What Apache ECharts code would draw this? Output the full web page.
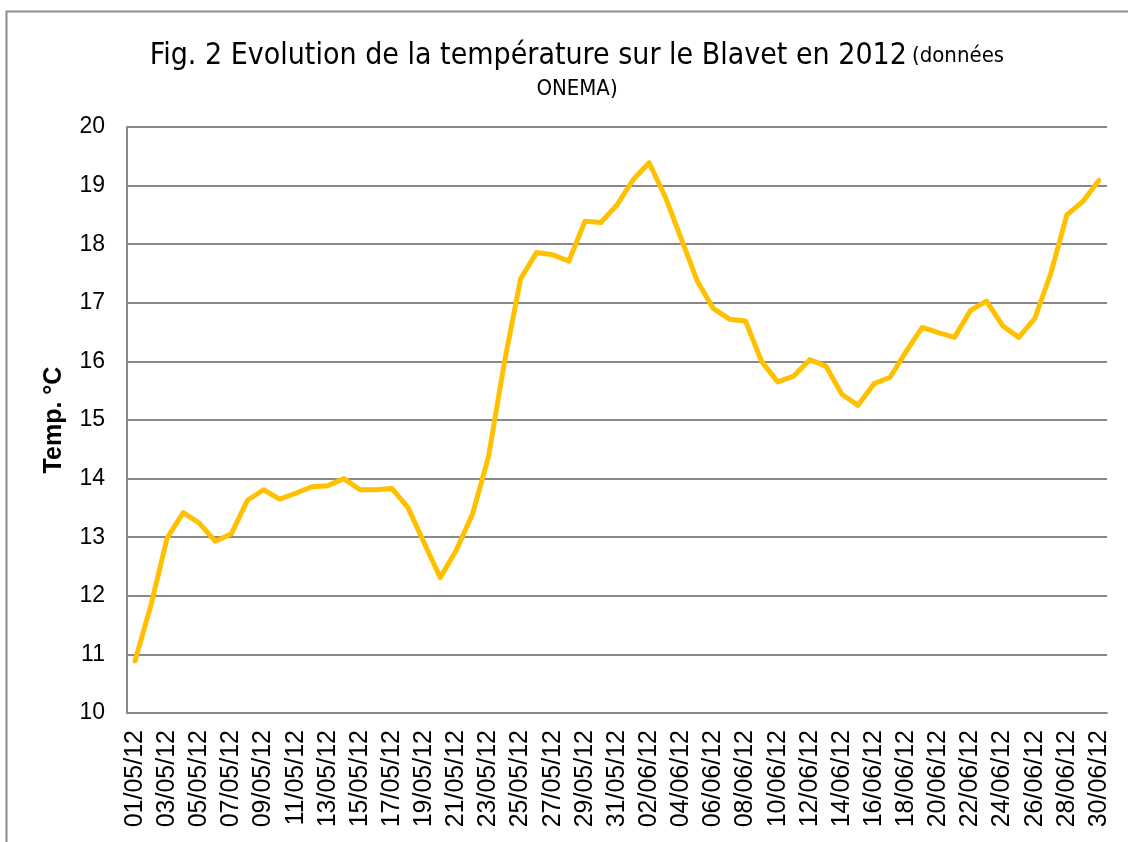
<!DOCTYPE html>
<html>
<head>
<meta charset="utf-8">
<script src="https://cdn.jsdelivr.net/npm/echarts@6/dist/echarts.min.js"></script>
<style>
    html, body { margin: 0; padding: 0; background: #fff; }
    #chart { width: 1128px; height: 842px; }
</style>
</head>
<body>
<div id="chart"></div>
<script>
{
    /*données - dates du 01/05/12 au 30/06/12*/
    const dates = [
        '01/05/12','02/05/12','03/05/12','04/05/12','05/05/12','06/05/12','07/05/12','08/05/12','09/05/12','10/05/12',
        '11/05/12','12/05/12','13/05/12','14/05/12','15/05/12','16/05/12','17/05/12','18/05/12','19/05/12','20/05/12',
        '21/05/12','22/05/12','23/05/12','24/05/12','25/05/12','26/05/12','27/05/12','28/05/12','29/05/12','30/05/12',
        '31/05/12','01/06/12','02/06/12','03/06/12','04/06/12','05/06/12','06/06/12','07/06/12','08/06/12','09/06/12',
        '10/06/12','11/06/12','12/06/12','13/06/12','14/06/12','15/06/12','16/06/12','17/06/12','18/06/12','19/06/12',
        '20/06/12','21/06/12','22/06/12','23/06/12','24/06/12','25/06/12','26/06/12','27/06/12','28/06/12','29/06/12',
        '30/06/12'
    ];

    /*température (°C)*/
    const temperatures = [
        10.89, 11.85, 12.99, 13.42, 13.24, 12.93, 13.06, 13.63, 13.81, 13.65,
        13.75, 13.86, 13.88, 14.00, 13.81, 13.81, 13.83, 13.50, 12.90, 12.31,
        12.78, 13.39, 14.37, 16.00, 17.41, 17.86, 17.82, 17.71, 18.39, 18.37,
        18.67, 19.10, 19.39, 18.81, 18.09, 17.37, 16.90, 16.72, 16.69, 16.00,
        15.65, 15.75, 16.03, 15.92, 15.44, 15.25, 15.62, 15.73, 16.17, 16.58,
        16.49, 16.41, 16.87, 17.03, 16.61, 16.41, 16.73, 17.50, 18.50, 18.73,
        19.09
    ];

    /*axe des ordonnées*/
    const yMin = 10;
    const yMax = 20;
    const yStep = 1;

    const titleFont = '"Liberation Sans Narrow", "DejaVu Sans Condensed", "Roboto Condensed", sans-serif';

    const chart = echarts.init(document.getElementById('chart'));

    const option = {
        backgroundColor: '#fff',
        animation: false,
        title: {
            text: '{a|Fig. 2 Evolution de la température sur le Blavet en 2012} {b|(données}\n{b|ONEMA)}',
            left: 572,
            top: 35,
            textAlign: 'center',
            textStyle: {
                fontWeight: 'normal',
                rich: {
                    a: {fontFamily: titleFont, fontWeight: 'normal', fontSize: 30, color: '#000', lineHeight: 33},
                    b: {fontFamily: titleFont, fontWeight: 'normal', fontSize: 22, color: '#000', lineHeight: 33}
                }
            }
        },
        graphic: [
            {
                type: 'rect',
                shape: {x: 6.5, y: 11.5, width: 1200, height: 900},
                style: {fill: 'none', stroke: '#8c8c8c', lineWidth: 2}
            }
        ],
        grid: {
            left: 127,
            right: 21,
            top: 127,
            bottom: 129,
            containLabel: false
        },
        xAxis: {
            type: 'category',
            data: dates,
            boundaryGap: true,
            axisLine: {lineStyle: {color: '#888', width: 2}},
            axisTick: {show: false},
            axisLabel: {
                interval: 1,
                rotate: 90,
                margin: 17,
                fontFamily: 'Liberation Sans',
                fontSize: 25,
                color: '#000'
            }
        },
        yAxis: {
            type: 'value',
            min: yMin,
            max: yMax,
            interval: yStep,
            name: 'Temp. °C',
            nameLocation: 'middle',
            nameGap: 60,
            nameTextStyle: {
                fontFamily: 'Liberation Sans',
                fontSize: 25,
                fontWeight: 'bold',
                color: '#000'
            },
            axisLine: {show: true, lineStyle: {color: '#888', width: 2}},
            axisTick: {show: false},
            axisLabel: {
                margin: 22,
                fontFamily: 'Liberation Sans',
                fontSize: 23,
                color: '#000'
            },
            splitLine: {lineStyle: {color: '#888', width: 2}}
        },
        series: [
            {
                type: 'line',
                data: temperatures,
                showSymbol: false,
                symbol: 'none',
                lineStyle: {color: '#FFC000', width: 5, join: 'round', cap: 'round'}
            }
        ]
    };

    chart.setOption(option);
}
</script>
</body>
</html>
